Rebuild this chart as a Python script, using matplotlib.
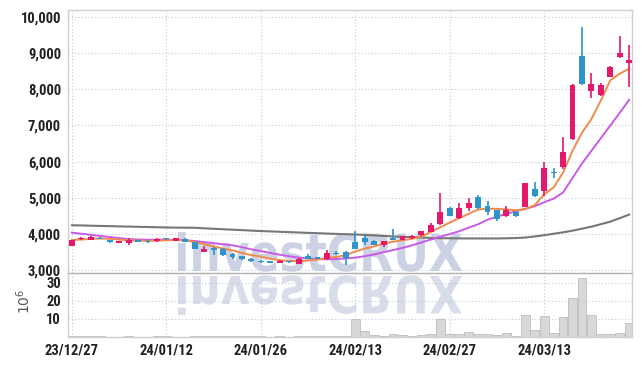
import matplotlib
matplotlib.use("Agg")
import matplotlib.pyplot as plt
import numpy as np
from matplotlib import font_manager
from matplotlib.font_manager import FontProperties
from matplotlib.textpath import TextPath
from matplotlib.patches import PathPatch
from matplotlib.transforms import Affine2D, IdentityTransform

# daily candles (KRW), 23/12/27 .. 24/03/22
opens = [3670, 3860, 3850, 3900, 3840, 3760, 3760, 3840, 3820, 3800,
         3870, 3820, 3870, 3770, 3520, 3580, 3600, 3460, 3390, 3320,
         3270, 3240, 3215, 3235, 3185, 3390, 3330, 3300, 3470, 3500,
         3780, 3900, 3820, 3710, 3900, 3850, 3880, 3970, 4060, 4270,
         4730, 4435, 4730, 5030, 4780, 4660, 4500, 4620, 4750, 5240,
         5190, 5710, 5845, 6630, 8920, 7960, 7830, 8345, 8880, 8730]
highs = [3840, 3910, 3940, 3910, 3850, 3820, 3900, 3850, 3830, 3900,
         3900, 3900, 3880, 3780, 3660, 3650, 3610, 3470, 3400, 3330,
         3280, 3250, 3285, 3260, 3330, 3460, 3350, 3570, 3530, 3520,
         4080, 3970, 3830, 3810, 4150, 3950, 3980, 4090, 4300, 5130,
         4740, 4870, 4990, 5080, 4910, 4670, 4780, 4630, 5420, 5450,
         5980, 5830, 6675, 8140, 9730, 8460, 8160, 8640, 9460, 9220]
lows = [3660, 3830, 3850, 3860, 3750, 3750, 3700, 3780, 3760, 3790,
        3830, 3810, 3780, 3580, 3510, 3420, 3400, 3300, 3290, 3230,
        3210, 3205, 3205, 3215, 3170, 3310, 3300, 3290, 3410, 3150,
        3580, 3710, 3700, 3650, 3830, 3840, 3870, 3960, 4050, 4250,
        4490, 4420, 4640, 4700, 4520, 4360, 4470, 4460, 4740, 5030,
        5055, 5560, 5800, 6600, 8120, 7770, 7820, 8330, 8870, 8070]
closes = [3830, 3870, 3920, 3870, 3770, 3810, 3840, 3790, 3770, 3860,
          3860, 3880, 3790, 3590, 3600, 3570, 3410, 3370, 3310, 3250,
          3220, 3215, 3270, 3225, 3320, 3320, 3320, 3480, 3455, 3340,
          3600, 3780, 3710, 3800, 3840, 3940, 3940, 4080, 4240, 4610,
          4500, 4710, 4870, 4710, 4610, 4430, 4670, 4500, 5410, 5060,
          5825, 5690, 6260, 8130, 8140, 8150, 8130, 8620, 9010, 8805]

# moving averages as drawn on the chart
ma_short = [3840, 3850, 3870, 3880, 3870, 3850, 3830, 3820, 3815, 3820,
            3830, 3840, 3830, 3780, 3720, 3660, 3600, 3550, 3480, 3420,
            3380, 3320, 3280, 3260, 3250, 3270, 3300, 3340, 3370, 3420,
            3520, 3600, 3660, 3740, 3790, 3830, 3870, 3930, 4060, 4190,
            4320, 4440, 4560, 4680, 4700, 4700, 4680, 4660, 4690, 4800,
            5100, 5290, 5700, 6300, 6800, 7180, 7690, 8250, 8430, 8570]
ma_mid = [4040, 4010, 3980, 3950, 3920, 3890, 3860, 3850, 3845, 3845,
          3845, 3840, 3830, 3810, 3780, 3750, 3720, 3690, 3640, 3580,
          3530, 3480, 3430, 3390, 3350, 3325, 3310, 3305, 3310, 3330,
          3350, 3390, 3440, 3500, 3560, 3620, 3690, 3770, 3850, 3930,
          4000, 4080, 4180, 4270, 4400, 4480, 4560, 4630, 4700, 4770,
          4880, 4980, 5150, 5550, 5950, 6300, 6650, 7000, 7350, 7710]
ma_long = [4245, 4240, 4232, 4226, 4220, 4214, 4208, 4202, 4196, 4190,
           4184, 4180, 4177, 4175, 4160, 4148, 4135, 4122, 4110, 4097,
           4085, 4075, 4065, 4055, 4045, 4035, 4025, 4015, 4005, 3997,
           3990, 3978, 3965, 3950, 3935, 3925, 3915, 3905, 3895, 3888,
           3885, 3882, 3880, 3880, 3880, 3880, 3885, 3892, 3905, 3935,
           3970, 4010, 4050, 4095, 4150, 4205, 4275, 4345, 4440, 4540]

# volume, millions of shares
volumes = [0.3, 0.4, 0.8, 0.3, 0.2, 0.2, 0.3, 0.2, 0.2, 0.6,
           0.3, 0.2, 0.2, 0.5, 0.3, 0.6, 0.7, 0.4, 0.3, 0.3,
           0.3, 0.2, 0.3, 0.2, 0.6, 0.4, 0.3, 0.7, 0.3, 0.6,
           10, 3.5, 1, 0.5, 1.5, 1, 0.6, 1, 1.5, 10,
           1.5, 1.5, 2.5, 1.5, 1.5, 1, 2, 0.5, 12.3, 4,
           11.5, 2, 11, 21.5, 32.5, 12.3, 1.5, 1.5, 2, 8]

tick_pos = [0, 10, 20, 30, 40, 50]
tick_dates = ["23/12/27", "24/01/12", "24/01/26", "24/02/13", "24/02/27", "24/03/13"]

UP = "#e2196c"
DOWN = "#2f94c7"
GRID = "#c3c9dc"
FRAME = "#cfcfcf"

# pick a narrow face for the tick labels if one is installed
fonts = font_manager.fontManager.ttflist
names = {f.name for f in fonts}
tick_font = None
for fam in ["Liberation Sans Narrow", "Roboto Condensed", "Open Sans Condensed"]:
    if fam in names:
        tick_font = dict(family=fam, weight="bold", size=10.5)
        break
if tick_font is None:
    if any(f.name == "DejaVu Sans" and f.stretch == "condensed" for f in fonts):
        tick_font = dict(family="DejaVu Sans", stretch="condensed", weight="bold", size=9.8)
    else:
        tick_font = dict(family="Roboto", weight="bold", size=9.5)

W, H = 642, 366
fig = plt.figure(figsize=(W / 100, H / 100), dpi=100)
ax = fig.add_axes([68 / W, (H - 272.5) / H, 564 / W, 262.5 / H])
axv = fig.add_axes([68 / W, (H - 337) / H, 564 / W, 64.5 / H], sharex=ax)
for a in (ax, axv):
    a.set_facecolor("none")

# watermark with its mirror image, behind the axes
tp = TextPath((0, 0), "investCRUX", size=100,
              prop=FontProperties(family="DejaVu Sans", weight="bold"))
bb = tp.get_extents()
sx = 284 / bb.width
sy = 39 / bb.y1
up_tr = Affine2D().translate(-bb.x0, 0).scale(sx, sy).translate(178, H - 271)
dn_tr = Affine2D().translate(-bb.x0, 0).scale(sx, -sy).translate(178, H - 276)
for tr, col in ((up_tr, "#ccd2e4"), (dn_tr, "#d8dde9")):
    p = PathPatch(tr.transform_path(tp), facecolor=col, edgecolor="none",
                  transform=IdentityTransform(), zorder=-1)
    fig.add_artist(p)

x = np.arange(len(closes))
o = np.array(opens)
c = np.array(closes)
colors = [UP if cc >= oo else DOWN for oo, cc in zip(o, c)]

ax.plot(x, ma_long, color="#777777", lw=1.5, zorder=2)
ax.plot(x, ma_mid, color="#c95ae8", lw=1.4, zorder=2)
ax.plot(x, ma_short, color="#f08a4b", lw=1.4, zorder=2)

ax.vlines(x, lows, highs, colors=colors, lw=1.2, zorder=3)
body_low = np.minimum(o, c)
body_h = np.maximum(np.abs(c - o), 35)
ax.bar(x, body_h, bottom=body_low, width=0.62, color=colors, zorder=4)

axv.bar(x, volumes, width=0.92, color="#d8d8d8", edgecolor="#bdbdbd",
        linewidth=0.6, zorder=2)

ax.set_xlim(-0.42, 59.3)
ax.set_ylim(2940, 10190)
ax.set_yticks(range(3000, 10001, 1000))
ax.set_yticklabels([f"{v:,}" for v in range(3000, 10001, 1000)], **tick_font)
axv.set_ylim(0, 35.8)
axv.set_yticks([10, 20, 30])
axv.set_yticklabels(["10", "20", "30"], **tick_font)
axv.set_xticks(tick_pos)
axv.set_xticklabels(tick_dates, **tick_font)
ax.tick_params(axis="x", labelbottom=False)

for a in (ax, axv):
    a.grid(True, color=GRID, linestyle=(0, (1, 2)), lw=0.8)
    a.set_axisbelow(True)
    a.tick_params(length=0, pad=5, colors="#222222")
    for s in a.spines.values():
        s.set_color(FRAME)
        s.set_linewidth(1)
ax.spines["bottom"].set_color("#b0b0b0")
axv.spines["top"].set_visible(False)

axv.set_ylabel(r"$10^6$", color="#555555", fontsize=10)
axv.yaxis.set_label_coords(-0.062, 0.55)

fig.savefig("out.png", dpi=100)
